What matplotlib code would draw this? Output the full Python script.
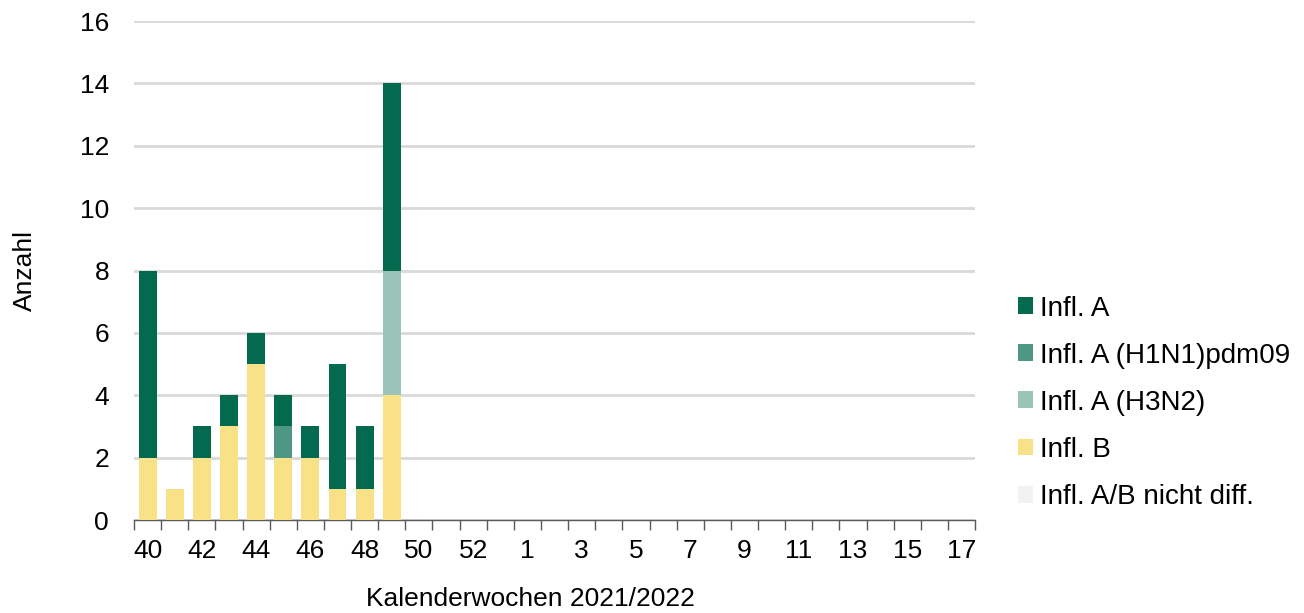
import numpy as np
import matplotlib.pyplot as plt

plt.rcParams['font.family'] = ['Liberation Sans', 'DejaVu Sans']

weeks = [str(w) for w in range(40, 54)] + [str(w) for w in range(1, 18)]
infl_b = [2, 1, 2, 3, 5, 2, 2, 1, 1, 4] + [0] * 21
infl_ab_nd = [0] * 31
infl_h3n2 = [0, 0, 0, 0, 0, 0, 0, 0, 0, 4] + [0] * 21
infl_h1n1 = [0, 0, 0, 0, 0, 1, 0, 0, 0, 0] + [0] * 21
infl_a = [6, 0, 1, 1, 1, 1, 1, 4, 2, 6] + [0] * 21

series = [
    ("Infl. B", infl_b, "#f9e187"),
    ("Infl. A/B nicht diff.", infl_ab_nd, "#f2f2f2"),
    ("Infl. A (H3N2)", infl_h3n2, "#9bc4b8"),
    ("Infl. A (H1N1)pdm09", infl_h1n1, "#4e9785"),
    ("Infl. A", infl_a, "#03694f"),
]

fs = 19
fig = plt.figure(figsize=(13.04, 6.13), dpi=100)
ax = fig.add_axes([0.1028, 0.1517, 0.645, 0.814])

x = np.arange(len(weeks))
bottom = np.zeros(len(weeks))
handles = {}
for name, vals, col in series:
    vals = np.array(vals, dtype=float)
    h = ax.bar(x, vals, 0.66, bottom=bottom, color=col, label=name, zorder=3)
    handles[name] = h
    bottom += vals

ax.set_xlim(-0.5, len(weeks) - 0.5)
ax.set_ylim(0, 16)
ax.set_yticks(range(0, 17, 2))
ax.yaxis.grid(True, color="#d9d9d9", linewidth=2, zorder=0)
ax.tick_params(axis='y', length=0, labelsize=fs, pad=18)

ax.set_xticks(x[::2])
ax.set_xticklabels(weeks[::2])
ax.set_xticks(np.arange(-0.5, len(weeks), 1), minor=True)
ax.tick_params(axis='x', which='major', length=0, labelsize=fs, pad=14)
ax.tick_params(axis='x', which='minor', length=7, width=1, color="#595959", direction='out')

for s in ['top', 'right', 'left']:
    ax.spines[s].set_visible(False)
ax.spines['bottom'].set_color("#595959")
ax.spines['bottom'].set_linewidth(1)

ax.set_ylabel("Anzahl", fontsize=fs, labelpad=31)
ax.set_xlabel("Kalenderwochen 2021/2022", fontsize=fs, labelpad=22)
ax.xaxis.set_label_coords(0.471, -0.135)

order = ["Infl. A", "Infl. A (H1N1)pdm09", "Infl. A (H3N2)", "Infl. B", "Infl. A/B nicht diff."]
ax.legend([handles[n] for n in order], order, loc='center left',
          bbox_to_anchor=(1.021, 0.235), frameon=False, fontsize=20,
          handlelength=0.56, handleheight=0.56, handletextpad=0.25, labelspacing=0.76)

fig.savefig("out.png", dpi=100)
